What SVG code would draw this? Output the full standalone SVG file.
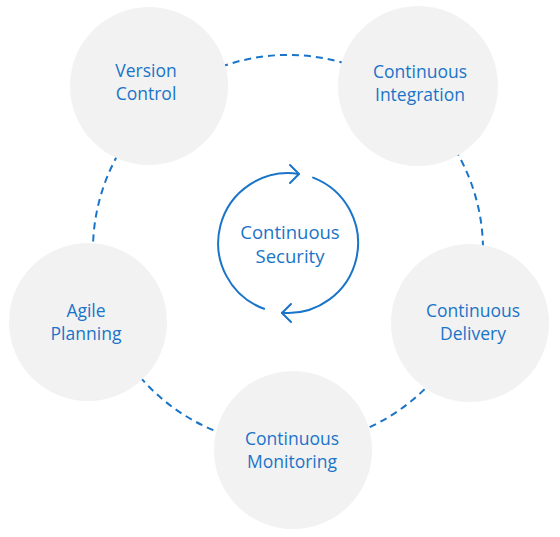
<svg xmlns="http://www.w3.org/2000/svg" width="560" height="537" viewBox="0 0 560 537">
<style>
.node{fill:#f2f2f2}
.lbl{font-family:"Open Sans","Noto Sans",sans-serif;font-size:17.5px;fill:#1a74c8;text-anchor:middle}
.big{font-size:18.5px}
.dash{fill:none;stroke:#1a74c8;stroke-width:2;stroke-dasharray:7 5}
.cyc{fill:none;stroke:#1a74c8;stroke-width:2;stroke-linecap:round;stroke-linejoin:round}
</style>
<rect width="560" height="537" fill="#ffffff"/>
<g id="connectors">
<path class="dash" d="M221.3,66.7 A195,195 0 0 1 348.3,64.5"/>
<path class="dash" d="M455.2,149.6 A195,195 0 0 1 483,250"/>
<path class="dash" d="M432.9,380.5 A195,195 0 0 1 361.1,430.8"/>
<path class="dash" d="M224.5,434.4 A195,195 0 0 1 136.5,372.7"/>
<path class="dash" d="M93,253.4 A195,195 0 0 1 120.8,149.6"/>
</g>
<g id="version-control">
<circle class="node" cx="149" cy="86" r="79"/>
<text class="lbl" x="146" y="77">Version</text>
<text class="lbl" x="146" y="100">Control</text>
</g>
<g id="continuous-integration">
<circle class="node" cx="418" cy="86" r="80"/>
<text class="lbl" x="420" y="78">Continuous</text>
<text class="lbl" x="420" y="101">Integration</text>
</g>
<g id="continuous-delivery">
<circle class="node" cx="470" cy="323" r="79"/>
<text class="lbl" x="473" y="317">Continuous</text>
<text class="lbl" x="473" y="340">Delivery</text>
</g>
<g id="continuous-monitoring">
<circle class="node" cx="293" cy="450" r="79"/>
<text class="lbl" x="292" y="445">Continuous</text>
<text class="lbl" x="292" y="468">Monitoring</text>
</g>
<g id="agile-planning">
<circle class="node" cx="88" cy="322" r="79"/>
<text class="lbl" x="86" y="317">Agile</text>
<text class="lbl" x="86" y="340">Planning</text>
</g>
<g id="continuous-security">
<path class="cyc" d="M264.1,308.8 A70,70 0 0 1 298.9,173.9"/>
<path class="cyc" d="M290,165 L299,174 L290,183"/>
<path class="cyc" d="M313.1,177.6 A70,70 0 0 1 281.9,312.7"/>
<path class="cyc" d="M291,304 L282,313 L291,322"/>
<text class="lbl big" x="290" y="239">Continuous</text>
<text class="lbl big" x="290" y="263">Security</text>
</g>
</svg>
